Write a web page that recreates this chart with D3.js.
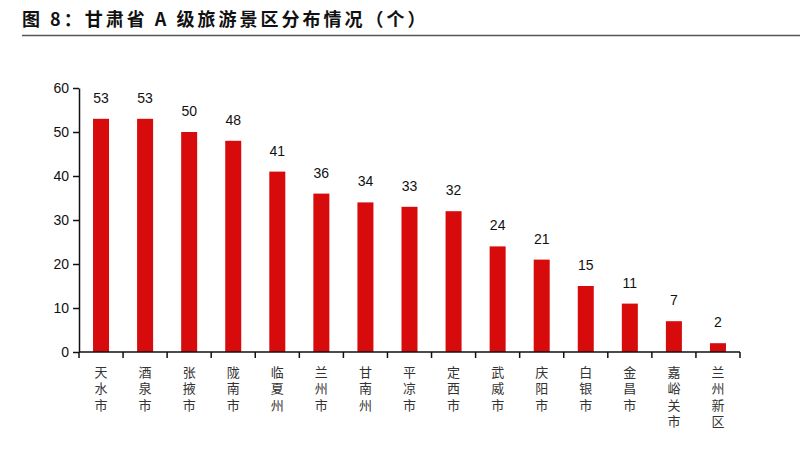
<!DOCTYPE html>
<html>
<head>
<meta charset="utf-8">
<script src="https://cdn.jsdelivr.net/npm/d3@7"></script>
<style>
  body { margin: 0; background: #fff; }
  svg { display: block; }
</style>
</head>
<body>
<div id="chart"></div>
<script>
// Size
const WIDTH = 800;
const HEIGHT = 449;

// Data
const cities = ["天水市", "酒泉市", "张掖市", "陇南市", "临夏州", "兰州市", "甘南州", "平凉市",
  "定西市", "武威市", "庆阳市", "白银市", "金昌市", "嘉峪关市", "兰州新区"];
const counts = [53, 53, 50, 48, 41, 36, 34, 33, 32, 24, 21, 15, 11, 7, 2];
const yTicks = [0, 10, 20, 30, 40, 50, 60];

const title = "图 8：甘肃省 A 级旅游景区分布情况（个）";

// Plot box
const LEFT = 79;
const RIGHT = 740;
const TOP = 88;
const BOTTOM = 352;

var svg = d3
  .select("#chart")
  .append("svg")
  .attr("width", WIDTH)
  .attr("height", HEIGHT);

// Title and rule
svg
  .append("text")
  .attr("x", 22)
  .attr("y", 26)
  .style("font-family", "'Noto Sans CJK SC', sans-serif")
  .style("font-weight", "bold")
  .style("font-size", "18px")
  .style("letter-spacing", "3px")
  .style("fill", "#111")
  .text(title);

svg
  .append("line")
  .attr("x1", 22)
  .attr("x2", WIDTH)
  .attr("y1", 35.5)
  .attr("y2", 35.5)
  .attr("stroke", "#555")
  .attr("stroke-width", 1.6);

// Scales
const xScale = d3.scaleBand().domain(cities).range([LEFT, RIGHT]).padding(0);
const yScale = d3.scaleLinear().domain([0, 60]).range([BOTTOM, TOP]);
const BAR_W = 16;
const mid = (c) => xScale(c) + xScale.bandwidth() / 2;

// Y axis
var yAxis = svg
  .append("g")
  .attr("transform", "translate(" + LEFT + ",0)")
  .call(d3.axisLeft(yScale).tickValues(yTicks).tickSize(6).tickSizeOuter(0));

yAxis.select(".domain").attr("stroke", "#111").attr("stroke-width", 1.5);
yAxis.selectAll(".tick line").attr("stroke", "#111").attr("stroke-width", 1.5);
yAxis
  .selectAll(".tick text")
  .attr("x", -10)
  .style("font-family", "'Liberation Sans', Arial, sans-serif")
  .style("font-size", "14px")
  .style("fill", "#111");

// Bars
svg
  .selectAll("rect.bar")
  .data(counts)
  .enter()
  .append("rect")
  .attr("class", "bar")
  .attr("x", (d, i) => mid(cities[i]) - BAR_W / 2)
  .attr("y", (d) => yScale(d))
  .attr("width", BAR_W)
  .attr("height", (d) => BOTTOM - yScale(d))
  .attr("fill", "#d70a0c");

// Value labels
svg
  .selectAll("text.val")
  .data(counts)
  .enter()
  .append("text")
  .attr("class", "val")
  .attr("x", (d, i) => mid(cities[i]))
  .attr("y", (d) => yScale(d) - 16)
  .attr("text-anchor", "middle")
  .style("font-family", "'Liberation Sans', Arial, sans-serif")
  .style("font-size", "14px")
  .style("fill", "#111")
  .text((d) => d);

// X axis with ticks at band edges
var xAxis = svg
  .append("g")
  .attr("transform", "translate(0," + BOTTOM + ")");

xAxis
  .append("line")
  .attr("x1", LEFT)
  .attr("x2", RIGHT)
  .attr("stroke", "#111")
  .attr("stroke-width", 1.5);

const edges = cities.map((c) => xScale(c)).concat([RIGHT]);
xAxis
  .selectAll("line.tk")
  .data(edges)
  .enter()
  .append("line")
  .attr("class", "tk")
  .attr("x1", (d) => d)
  .attr("x2", (d) => d)
  .attr("y1", 0)
  .attr("y2", 6)
  .attr("stroke", "#111")
  .attr("stroke-width", 1.5);

// Vertical category labels, one text per character
const chars = [];
cities.forEach((c) => c.split("").forEach((ch, j) => chars.push({ ch: ch, city: c, j: j })));

xAxis
  .selectAll("text.cat")
  .data(chars)
  .enter()
  .append("text")
  .attr("class", "cat")
  .attr("x", (d) => mid(d.city))
  .attr("y", (d) => 20 + d.j * 16.5)
  .attr("dy", "0.35em")
  .attr("text-anchor", "middle")
  .style("font-family", "'Noto Sans CJK SC', sans-serif")
  .style("font-size", "13px")
  .style("fill", "#333")
  .text((d) => d.ch);
</script>
</body>
</html>
